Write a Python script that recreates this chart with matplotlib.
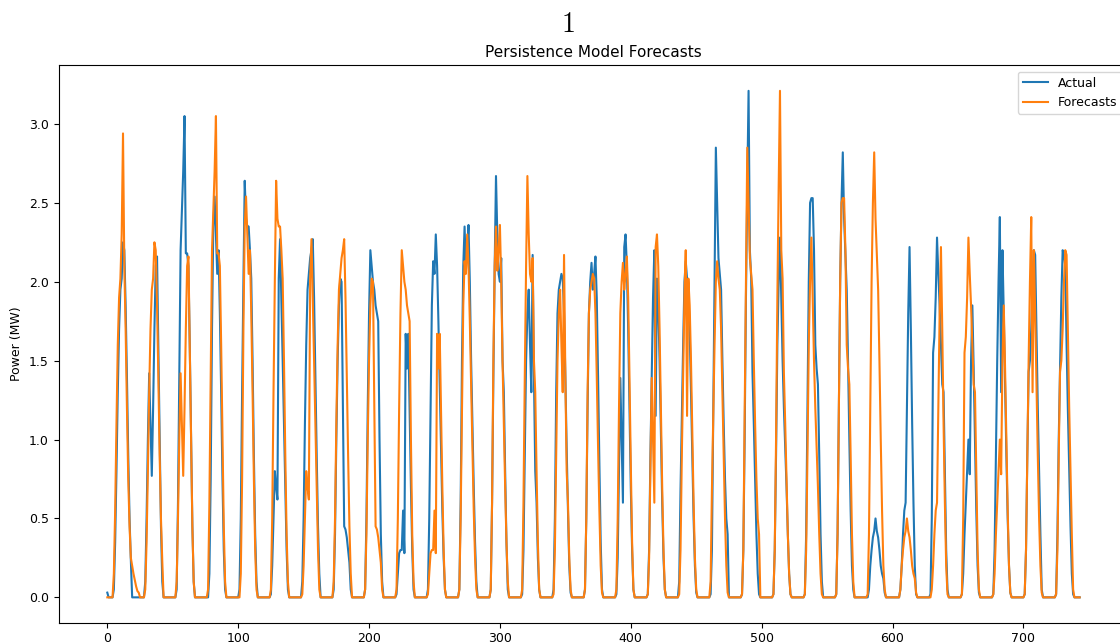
import numpy as np
import matplotlib
matplotlib.use("Agg")
import matplotlib.pyplot as plt

plt.rcParams['font.size'] = 9
plt.rcParams['mathtext.fontset'] = 'cm'

# hourly output (MW) for each day of the month, hours 0..23
actual_days = [
    [0.03, 0, 0, 0, 0, 0.05, 0.35, 0.8, 1.3, 1.7, 1.95, 2.02, 2.25, 2.2, 1.85, 1.4, 0.9, 0.5, 0.23, 0, 0, 0, 0, 0],
    [0, 0, 0, 0, 0, 0.1, 0.5, 1.0, 1.42, 1.1, 0.77, 1.2, 1.7, 2.1, 2.16, 1.6, 1.0, 0.45, 0.1, 0, 0, 0, 0, 0],
    [0, 0, 0, 0, 0, 0.05, 0.6, 1.4, 2.2, 2.45, 2.7, 3.05, 2.18, 2.18, 2.1, 1.6, 1.0, 0.45, 0.1, 0, 0, 0, 0, 0],
    [0, 0, 0, 0, 0, 0, 0.15, 0.75, 1.7, 2.35, 2.54, 2.3, 2.05, 2.2, 1.8, 1.3, 0.75, 0.3, 0.05, 0, 0, 0, 0, 0],
    [0, 0, 0, 0, 0, 0.05, 0.5, 1.3, 2.0, 2.64, 2.4, 2.35, 2.35, 2.2, 2.02, 1.5, 0.9, 0.4, 0.1, 0, 0, 0, 0, 0],
    [0, 0, 0, 0, 0, 0.02, 0.2, 0.5, 0.8, 0.7, 0.62, 2.02, 2.27, 1.9, 1.5, 1.1, 0.7, 0.3, 0.05, 0, 0, 0, 0, 0],
    [0, 0, 0, 0, 0, 0.1, 0.5, 1.1, 1.6, 1.95, 2.05, 2.15, 2.2, 2.27, 1.9, 1.4, 0.9, 0.45, 0.15, 0, 0, 0, 0, 0],
    [0, 0, 0, 0, 0, 0.05, 0.4, 1.0, 1.5, 1.85, 2.02, 2.0, 1.2, 0.45, 0.43, 0.38, 0.3, 0.22, 0.05, 0, 0, 0, 0, 0],
    [0, 0, 0, 0, 0, 0.05, 0.5, 1.2, 1.8, 2.2, 2.1, 2.0, 1.95, 1.85, 1.8, 1.75, 1.0, 0.4, 0.1, 0, 0, 0, 0, 0],
    [0, 0, 0, 0, 0, 0.02, 0.15, 0.28, 0.3, 0.3, 0.55, 0.28, 1.67, 1.45, 1.67, 1.2, 0.7, 0.3, 0.05, 0, 0, 0, 0, 0],
    [0, 0, 0, 0, 0, 0.05, 0.5, 1.2, 1.85, 2.13, 2.05, 2.3, 2.1, 1.75, 1.35, 0.95, 0.55, 0.25, 0.05, 0, 0, 0, 0, 0],
    [0, 0, 0, 0, 0, 0.05, 0.6, 1.5, 2.1, 2.35, 2.07, 2.2, 2.36, 2.0, 1.5, 1.1, 0.7, 0.35, 0.1, 0, 0, 0, 0, 0],
    [0, 0, 0, 0, 0, 0.05, 0.6, 1.4, 2.1, 2.67, 2.3, 2.05, 2.0, 2.15, 1.5, 1.3, 0.8, 0.35, 0.05, 0, 0, 0, 0, 0],
    [0, 0, 0, 0, 0, 0.02, 0.3, 0.9, 1.5, 1.8, 1.95, 1.6, 1.3, 2.17, 1.4, 0.8, 0.6, 0.25, 0.05, 0, 0, 0, 0, 0],
    [0, 0, 0, 0, 0, 0.05, 0.5, 1.3, 1.8, 1.95, 2.0, 2.05, 2.02, 1.8, 1.4, 0.95, 0.55, 0.2, 0.03, 0, 0, 0, 0, 0],
    [0, 0, 0, 0, 0, 0.05, 0.5, 1.2, 1.8, 2.0, 2.12, 1.95, 2.05, 2.16, 1.9, 1.4, 0.85, 0.35, 0.05, 0, 0, 0, 0, 0],
    [0, 0, 0, 0, 0, 0.02, 0.25, 0.8, 1.39, 1.0, 0.6, 2.22, 2.3, 2.1, 1.7, 1.2, 0.7, 0.3, 0.05, 0, 0, 0, 0, 0],
    [0, 0, 0, 0, 0, 0.02, 0.3, 0.9, 1.4, 1.9, 2.2, 1.15, 2.02, 1.85, 1.5, 1.05, 0.6, 0.25, 0.05, 0, 0, 0, 0, 0],
    [0, 0, 0, 0, 0, 0.1, 0.68, 1.16, 1.6, 2.0, 2.13, 2.02, 1.95, 1.7, 1.3, 0.9, 0.5, 0.2, 0.03, 0, 0, 0, 0, 0],
    [0, 0, 0, 0, 0, 0.02, 0.3, 1.16, 2.0, 2.85, 2.5, 2.15, 2.05, 1.95, 1.5, 1.1, 0.75, 0.5, 0.4, 0, 0, 0, 0, 0],
    [0, 0, 0, 0, 0, 0.02, 0.3, 1.0, 1.9, 2.6, 3.21, 2.2, 2.02, 1.42, 1.1, 0.75, 0.4, 0.15, 0.02, 0, 0, 0, 0, 0],
    [0, 0, 0, 0, 0, 0.02, 0.3, 0.9, 1.6, 2.0, 2.28, 1.9, 1.5, 1.2, 0.95, 0.7, 0.4, 0.15, 0.02, 0, 0, 0, 0, 0],
    [0, 0, 0, 0, 0, 0.02, 0.4, 1.2, 2.0, 2.5, 2.53, 2.53, 2.2, 1.6, 1.45, 1.35, 0.9, 0.4, 0.1, 0, 0, 0, 0, 0],
    [0, 0, 0, 0, 0, 0.02, 0.4, 1.2, 2.0, 2.5, 2.82, 2.4, 2.17, 1.95, 1.5, 1.0, 0.55, 0.2, 0.05, 0, 0, 0, 0, 0],
    [0, 0, 0, 0, 0, 0, 0.05, 0.2, 0.3, 0.38, 0.42, 0.5, 0.42, 0.38, 0.3, 0.2, 0.15, 0.12, 0.03, 0, 0, 0, 0, 0],
    [0, 0, 0, 0, 0, 0, 0.05, 0.2, 0.4, 0.55, 0.6, 1.2, 1.8, 2.22, 1.7, 1.1, 0.6, 0.2, 0.02, 0, 0, 0, 0, 0],
    [0, 0, 0, 0, 0, 0.02, 0.5, 1.55, 1.65, 1.9, 2.28, 2.05, 1.85, 1.6, 1.35, 1.3, 0.8, 0.3, 0.05, 0, 0, 0, 0, 0],
    [0, 0, 0, 0, 0, 0.02, 0.15, 0.4, 0.6, 0.8, 1.0, 0.78, 1.5, 1.85, 1.45, 1.0, 0.55, 0.2, 0.03, 0, 0, 0, 0, 0],
    [0, 0, 0, 0, 0, 0.02, 0.3, 0.9, 1.5, 2.0, 2.41, 1.3, 2.2, 1.8, 1.35, 0.9, 0.5, 0.2, 0.03, 0, 0, 0, 0, 0],
    [0, 0, 0, 0, 0, 0.02, 0.3, 0.9, 1.43, 1.5, 1.7, 2.0, 2.2, 2.17, 1.7, 1.2, 0.8, 0.4, 0.05, 0, 0, 0, 0, 0],
    [0, 0, 0, 0, 0, 0.02, 0.4, 1.0, 1.45, 1.9, 2.2, 2.17, 2.1, 1.6, 1.18, 0.8, 0.45, 0.15, 0.02, 0, 0, 0, 0, 0],
]

# the day before the month starts, used as the first persistence forecast
previous_day = [0, 0, 0, 0, 0, 0.15, 0.55, 1.1, 1.6, 1.9, 2.02, 2.3, 2.94, 2.1, 1.7, 1.2,
                0.75, 0.45, 0.25, 0.2, 0.15, 0.11, 0.07, 0.04]

actual = np.concatenate(actual_days)
# persistence model: tomorrow looks like today
forecasts = np.concatenate([previous_day, actual[:-24]])
hours = np.arange(len(actual))

fig = plt.figure(figsize=(11.2, 6.44), dpi=100)
ax = fig.add_axes([0.0524, 0.0331, 0.955, 0.8652])

ax.plot(hours, actual, color='C0', lw=1.5, label='Actual')
ax.plot(hours, forecasts, color='C1', lw=1.5, label='Forecasts')

ax.set_title('Persistence Model Forecasts', fontsize=11)
ax.set_ylabel('Power (MW)')
ax.set_yticks(np.arange(0, 3.01, 0.5))
ax.set_xticks(np.arange(0, 701, 100))
ax.legend(loc='upper right')

fig.text(0.507, 0.962, r'$1$', fontsize=20, ha='center', va='center')

fig.savefig('out.png', dpi=100)
